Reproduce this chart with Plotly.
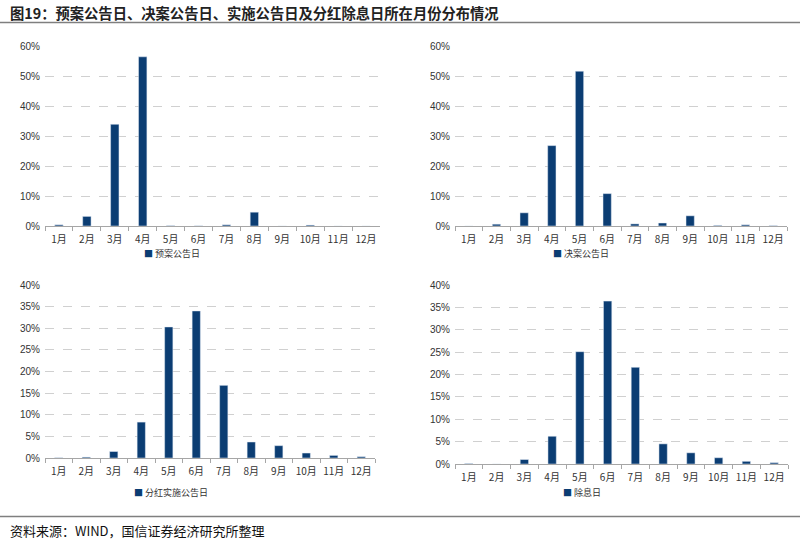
import plotly.graph_objects as go

months = ["1月", "2月", "3月", "4月", "5月", "6月", "7月", "8月", "9月", "10月", "11月", "12月"]

yuan_an = [0.4, 3.2, 33.9, 56.4, 0.1, 0.05, 0.4, 4.6, 0.0, 0.3, 0.0, 0.0]
jue_an = [0.0, 0.6, 4.4, 26.8, 51.6, 10.8, 0.7, 1.0, 3.4, 0.2, 0.4, 0.1]
shi_shi = [0.05, 0.2, 1.5, 8.3, 30.3, 34.0, 16.8, 3.7, 2.85, 1.15, 0.6, 0.3]
chu_xi = [0.1, 0.0, 1.0, 6.2, 25.1, 36.4, 21.6, 4.5, 2.5, 1.4, 0.6, 0.3]

names = ["预案公告日", "决案公告日", "分红实施公告日", "除息日"]
series = [yuan_an, jue_an, shi_shi, chu_xi]

W, H = 800, 544
BAR = "#0b3d73"


def px_x(px):
    return px / W


def px_y(py):
    return 1 - py / H


# pixel boxes in window coords: (x0, x1, ytop, ybottom)
boxes = [
    (45, 380, 46, 226),
    (455, 787, 46, 226),
    (45, 375, 285, 458),
    (455, 788, 285, 464),
]
yranges = [[0, 60], [0, 60], [0, 40], [0, 40]]
ydticks = [10, 10, 5, 5]
legend_pos = [(142, 253), (551, 253), (132, 492), (561, 492)]

fig = go.Figure()
annotations = []
for i, (nm, vals) in enumerate(zip(names, series)):
    idx = "" if i == 0 else str(i + 1)
    fig.add_trace(go.Bar(
        x=months, y=vals, name=nm, marker_color=BAR,
        xaxis="x" + idx, yaxis="y" + idx, showlegend=False,
        hovertemplate="%{x}: %{y:.1f}%<extra>" + nm + "</extra>",
    ))
    x0, x1, yt, yb = boxes[i]
    fig.layout["xaxis" + idx] = dict(
        domain=[px_x(x0), px_x(x1)], anchor="y" + idx,
        type="category", showline=True, linecolor="#a6a6a6", linewidth=1,
        ticks="outside", tickson="boundaries", ticklen=4, tickcolor="#a6a6a6",
        tickangle=0, automargin=False, ticklabelstandoff=4,
        tickfont=dict(family="Noto Sans CJK SC", size=10, color="#333"),
        showgrid=False, fixedrange=True,
    )
    fig.layout["yaxis" + idx] = dict(
        domain=[px_y(yb), px_y(yt)], anchor="x" + idx,
        range=yranges[i], dtick=ydticks[i], ticksuffix="%",
        showgrid=True, gridcolor="#d0d0d0", griddash="dash", gridwidth=1,
        zeroline=False, showline=False, automargin=False,
        ticklabelstandoff=4,
        tickfont=dict(family="Liberation Sans, Arial", size=10, color="#333"),
        fixedrange=True,
    )
    lx, ly = legend_pos[i]
    annotations.append(dict(
        text="<span style='color:%s'>■</span> %s" % (BAR, nm),
        x=px_x(lx), y=px_y(ly), xref="paper", yref="paper",
        xanchor="left", yanchor="middle", showarrow=False,
        font=dict(family="Noto Sans CJK SC", size=9, color="#333"),
    ))

annotations += [
    dict(text="<b>图19：预案公告日、决案公告日、实施公告日及分红除息日所在月份分布情况</b>",
         x=px_x(8), y=px_y(12), xref="paper", yref="paper",
         xanchor="left", yanchor="middle", showarrow=False,
         font=dict(family="Noto Sans CJK SC", size=14.3, color="#222")),
    dict(text="资料来源：WIND，国信证券经济研究所整理",
         x=px_x(8), y=px_y(530), xref="paper", yref="paper",
         xanchor="left", yanchor="middle", showarrow=False,
         font=dict(family="Noto Sans CJK SC", size=13, color="#111")),
]

fig.update_layout(
    width=W, height=H,
    margin=dict(l=0, r=0, t=0, b=0),
    paper_bgcolor="white", plot_bgcolor="white",
    bargap=0.7,
    showlegend=False,
    annotations=annotations,
    shapes=[
        dict(type="line", xref="paper", yref="paper", x0=0, x1=1,
             y0=px_y(22.5), y1=px_y(22.5), line=dict(color="#7f7f7f", width=1.5)),
        dict(type="line", xref="paper", yref="paper", x0=0, x1=1,
             y0=px_y(516.5), y1=px_y(516.5), line=dict(color="#7f7f7f", width=1.5)),
    ],
)

fig.write_html("out.html", config={"displayModeBar": False},
               post_script="document.body.style.margin='0';")
